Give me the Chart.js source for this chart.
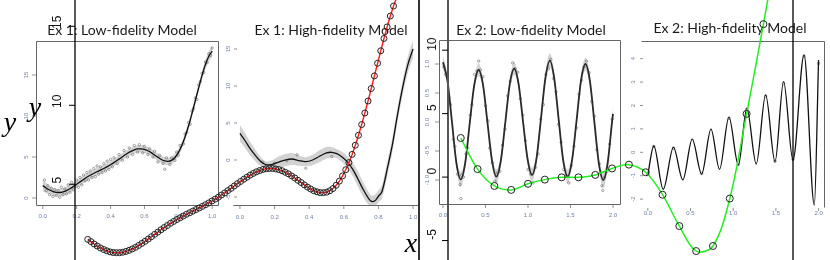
<!DOCTYPE html>
<html><head><meta charset="utf-8">
<script src="https://cdn.jsdelivr.net/npm/chart.js@4.4.1/dist/chart.umd.min.js"></script>
<style>
html,body{margin:0;padding:0;background:#fff;}
#wrap{position:relative;width:830px;height:260px;overflow:hidden;background:#fff;}
#wrap canvas{position:absolute;left:0;top:0;}
</style></head><body>
<div id="wrap">
<canvas id="p1" width="830" height="260"></canvas>
<canvas id="p2" width="830" height="260"></canvas>
<canvas id="p3" width="830" height="260"></canvas>
<canvas id="p4" width="830" height="260"></canvas>
<canvas id="o1" width="830" height="260"></canvas>
<canvas id="o2" width="830" height="260"></canvas>
</div>
<script>
// ---------- DATA ----------
const titles = ["Ex 1: Low-fidelity Model","Ex 1: High-fidelity Model","Ex 2: Low-fidelity Model","Ex 2: High-fidelity Model"];

// Ex 1 low-fidelity fit (x step 0.02)
const ex1LowStep = 0.02;
const ex1LowFit = [1.51,1.22,0.97,0.79,0.68,0.67,0.75,0.91,1.13,1.39,1.68,1.97,2.26,2.53,2.77,2.99,3.20,3.40,3.60,3.82,
  4.06,4.32,4.60,4.89,5.18,5.45,5.69,5.87,5.98,6.00,5.93,5.76,5.53,5.25,4.96,4.70,4.52,4.47,4.59,4.94,
  5.53,6.37,7.47,8.78,10.27,11.86,13.45,14.96,16.28,17.29,17.91];
const ex1LowSd = [0.7,0.6,0.5,0.45,0.45,0.45,0.45,0.45,0.45,0.45,0.45,0.45,0.45,0.45,0.45,0.45,0.45,0.45,0.45,0.45,
  0.45,0.45,0.45,0.45,0.45,0.45,0.45,0.45,0.45,0.45,0.45,0.45,0.45,0.45,0.45,0.45,0.45,0.45,0.45,0.45,
  0.45,0.45,0.45,0.45,0.45,0.45,0.45,0.5,0.55,0.6,0.7];
const ex1LowPts = [[0.01,2.2],[0.02,0.9],[0.03,1.5],[0.04,0.4],[0.05,1.2],[0.06,0.2],[0.07,1.0],[0.08,0.3],[0.09,0.9],[0.1,0.1],
  [0.11,1.3],[0.12,0.4],[0.13,1.1],[0.14,0.5],[0.15,1.6],[0.16,0.7],[0.17,1.9],[0.18,1.0],[0.19,1.5],[0.2,2.2],
  [0.21,1.3],[0.22,2.5],[0.23,1.6],[0.24,2.8],[0.25,2.1],[0.26,3.1],[0.27,2.2],[0.28,3.3],[0.29,2.5],[0.3,3.6],
  [0.31,2.6],[0.32,3.9],[0.33,2.9],[0.34,3.8],[0.35,3.1],[0.36,4.2],[0.37,3.3],[0.38,4.5],[0.39,3.5],[0.4,4.7],
  [0.41,3.8],[0.42,4.9],[0.44,4.2],[0.45,5.3],[0.47,4.6],[0.48,5.8],[0.5,5.0],[0.51,6.1],[0.53,5.3],[0.54,6.4],
  [0.56,5.6],[0.57,6.5],[0.59,5.5],[0.6,6.3],[0.62,5.3],[0.63,6.0],[0.65,5.0],[0.66,5.7],[0.68,4.4],[0.69,5.2],
  [0.71,4.2],[0.72,3.5],[0.73,4.9],[0.75,4.1],[0.76,4.9],[0.78,4.6],[0.79,5.6],[0.8,5.2],[0.81,6.4],[0.83,6.6],
  [0.84,7.8],[0.85,8.0],[0.86,9.2],[0.87,9.0],[0.88,10.6],[0.89,10.9],[0.9,12.2],[0.91,12.0],[0.92,13.8],[0.93,14.2],
  [0.94,15.2],[0.95,15.3],[0.96,16.6],[0.97,16.5],[0.98,17.6],[0.99,17.4],[1.0,18.3]];

// Ex 1 high-fidelity fit
const ex1HighX = [0.00,0.03,0.06,0.09,0.12,0.15,0.18,0.21,0.25,0.30,0.34,0.38,0.42,0.46,0.50,0.53,0.56,0.59,0.62,0.65,0.68,0.71,0.74,0.76,0.78,0.80,0.82,0.85,0.88,0.91,0.94,0.97,1.00];
const ex1HighFit = [3.6,2.6,1.5,0.6,-0.2,-0.62,-0.62,-0.4,-0.1,0.13,-0.08,-0.22,0.0,0.5,0.95,1.04,0.85,0.4,-0.25,-1.2,-2.5,-3.9,-5.1,-5.6,-5.5,-4.9,-4.3,-1.3,2.0,6.1,9.8,12.9,15.0];
const ex1HighSd = [1.1,1.0,0.9,0.8,0.6,0.45,0.5,0.7,0.8,0.8,0.7,0.6,0.7,0.8,0.8,0.7,0.6,0.7,0.8,0.9,1.0,1.0,0.9,0.8,0.8,0.8,0.9,1.0,1.0,1.0,1.0,1.1,1.2];
const ex1HighPts = [[0.13,-0.3],[0.2,-0.45],[0.27,-0.1],[0.33,0.7],[0.38,-1.1],[0.53,0.45]];

// Ex 2 low-fidelity fit
const ex2LowX = [0.000,0.052,0.105,0.157,0.209,0.262,0.314,0.367,0.419,0.471,0.524,0.576,0.628,0.681,0.733,0.785,0.838,0.890,0.942,0.995,
  1.047,1.100,1.152,1.204,1.257,1.309,1.361,1.414,1.466,1.518,1.571,1.623,1.676,1.728,1.780,1.833,1.885,1.937,1.990,2.000];
const ex2LowFit = [1.03,0.72,0.01,-0.70,-0.99,-0.70,-0.03,0.63,0.90,0.64,-0.02,-0.66,-0.94,-0.66,-0.01,0.65,0.92,0.65,0.00,-0.64,
  -0.91,-0.63,0.05,0.75,1.06,0.75,0.04,-0.66,-0.94,-0.66,0.02,0.71,1.00,0.71,0.01,-0.71,-1.00,-0.71,0.02,0.14];
const ex2LowSd = [0.12,0.08,0.05,0.08,0.13,0.08,0.05,0.08,0.11,0.08,0.05,0.08,0.12,0.08,0.05,0.08,0.11,0.08,0.05,0.08,
  0.12,0.08,0.05,0.08,0.12,0.08,0.05,0.08,0.12,0.08,0.05,0.08,0.11,0.08,0.05,0.08,0.14,0.1,0.08,0.12];
const ex2LowPts = [[0.01,0.95],[0.03,0.82],[0.05,0.78],[0.07,0.42],[0.09,0.30],[0.12,-0.30],[0.14,-0.42],[0.17,-0.90],[0.2,-1.08],[0.21,-1.32],
  [0.22,-0.92],[0.24,-0.95],[0.27,-0.55],[0.29,-0.45],[0.32,0.12],[0.34,0.30],[0.37,0.82],[0.4,0.88],[0.42,1.05],[0.44,0.90],
  [0.47,0.78],[0.5,0.28],[0.53,0.02],[0.55,-0.45],[0.58,-0.70],[0.61,-1.02],[0.64,-0.88],[0.67,-0.85],[0.7,-0.40],[0.73,-0.12],
  [0.76,0.45],[0.79,0.70],[0.82,1.02],[0.85,0.92],[0.88,0.86],[0.91,0.40],[0.94,0.12],[0.97,-0.32],[1.0,-0.82],[1.03,-0.90],
  [1.06,-1.05],[1.09,-0.78],[1.12,-0.55],[1.15,0.05],[1.18,0.30],[1.21,0.82],[1.24,0.92],[1.27,1.08],[1.3,0.75],[1.33,0.52],
  [1.36,-0.04],[1.39,-0.35],[1.42,-0.82],[1.45,-0.92],[1.48,-1.05],[1.51,-0.75],[1.54,-0.42],[1.57,-0.10],[1.6,0.48],[1.63,0.72],
  [1.66,0.95],[1.69,1.05],[1.72,0.85],[1.75,0.35],[1.78,0.10],[1.81,-0.48],[1.84,-0.72],[1.87,-1.10],[1.88,-1.18],[1.9,-0.95],
  [1.93,-0.85],[1.96,-0.38],[1.99,0.05]];

// Ex 2 high-fidelity fit
const ex2HighX = [0.00,0.07,0.18,0.30,0.41,0.52,0.63,0.74,0.84,0.95,1.06,1.16,1.27,1.38,1.49,1.59,1.70,1.83,1.95,2.00];
const ex2HighFit = [-0.95,0.27,-1.58,0.21,-1.18,0.56,-0.93,0.99,-0.73,1.50,-0.54,1.88,-0.50,2.45,-0.40,3.02,-0.33,4.16,-2.25,3.94];
const ex2HighPts = [[0.0,-0.95],[0.07,0.25],[0.3,0.18],[0.63,-0.9],[0.95,1.45],[1.06,-0.52],[1.16,1.85],[1.38,2.4],[1.49,-0.38],[1.59,2.95],[1.7,-0.3],[1.83,4.1],[2.0,3.8]];

// Overlay Ex 1: low-fidelity function sampled every 0.01
const ex1OverlayStep = 0.01;
const ex1Overlay = [1.51,1.37,1.22,1.09,0.97,0.87,0.79,0.72,0.68,0.67,
  0.67,0.70,0.75,0.82,0.91,1.01,1.13,1.26,1.39,1.53,
  1.68,1.83,1.97,2.12,2.26,2.39,2.53,2.65,2.77,2.88,
  2.99,3.10,3.20,3.30,3.40,3.50,3.60,3.71,3.82,3.94,
  4.06,4.18,4.32,4.45,4.60,4.74,4.89,5.04,5.18,5.32,
  5.45,5.58,5.69,5.79,5.87,5.94,5.98,6.00,6.00,5.97,
  5.93,5.86,5.76,5.66,5.53,5.40,5.25,5.11,4.96,4.82,
  4.70,4.59,4.52,4.47,4.47,4.50,4.59,4.73,4.94,5.20,
  5.53,5.92,6.37,6.89,7.47,8.10,8.78,9.51,10.27,11.06,
  11.86,12.66,13.45,14.23,14.96,15.65,16.28,16.83];
const ex1OverlayTicks = [5,10,15];

// Overlay Ex 2: points every 0.1
const ex2OverlayStep = 0.1;
const ex2Overlay = [3.08,0.63,-0.70,-1.01,-0.53,-0.20,-0.02,-0.02,0.17,0.68,0.98,0.38,-1.39,-3.86,-5.83,-5.43,-1.69,4.98,12.05,19.5];
const ex2OverlayTicks = [-5,0,5,10];

// tick labels
const ex1XTicks = [0,0.2,0.4,0.6,0.8,1.0];
const ex1XLabels = ["0.0","0.2","0.4","0.6","0.8","1.0"];
const ex1LowYTicks = [0,5,10,15];
const ex1HighYTicks = [-5,0,5,10,15];
const ex2XTicks = [0,0.5,1,1.5,2];
const ex2XLabels = ["0.0","0.5","1.0","1.5","2.0"];
const ex2LowYTicks = [-1,-0.5,0,0.5,1];
const ex2LowYLabels = ["-1.0","-0.5","0.0","0.5","1.0"];
const ex2HighYTicks = [-2,-1,0,1,2,3,4];

// ---------- HELPERS ----------
const stepX = (arr, step) => arr.map((v,i)=>({x: +(i*step).toFixed(4), y: v}));
const zipXY = (xs, ys) => xs.map((x,i)=>({x, y: ys[i]}));
const offXY = (xs, ys, ws, s) => xs.map((x,i)=>({x, y: ys[i] + s*ws[i]}));
const pts = arr => arr.map(p=>({x:p[0], y:p[1]}));

const rAxes = {
  id: 'rAxes',
  afterDatasetsDraw(chart, args, o) {
    const ctx = chart.ctx, a = chart.chartArea, xs = chart.scales.x, ys = chart.scales.y;
    ctx.save();
    if (o.box && o.box.length) {
      ctx.strokeStyle = o.boxColor || '#555'; ctx.lineWidth = 1;
      ctx.beginPath();
      const L = Math.round(a.left)+0.5, R = Math.round(a.right)-0.5, T = Math.round(a.top)+0.5, B = Math.round(a.bottom)-0.5;
      if (o.box.includes('top')) { ctx.moveTo(L, T); ctx.lineTo(R, T); }
      if (o.box.includes('bottom')) { ctx.moveTo(L, B); ctx.lineTo(R, B); }
      if (o.box.includes('left')) { ctx.moveTo(L, T); ctx.lineTo(L, B); }
      if (o.box.includes('right')) { ctx.moveTo(R, T); ctx.lineTo(R, B); }
      ctx.stroke();
    }
    (o.fullLines || []).forEach(l => {
      const px = l.side === 'left' ? a.left : a.right;
      ctx.strokeStyle = l.color; ctx.lineWidth = l.width;
      ctx.beginPath(); ctx.moveTo(px, 0); ctx.lineTo(px, chart.height); ctx.stroke();
    });
    if (o.xTicks) {
      ctx.font = o.tickFont; ctx.fillStyle = o.tickColor; ctx.strokeStyle = o.tickMarkColor || '#777'; ctx.lineWidth = 0.8;
      ctx.textAlign = 'center'; ctx.textBaseline = 'middle';
      o.xTicks.forEach((v,i) => {
        const px = xs.getPixelForValue(v);
        ctx.beginPath(); ctx.moveTo(px, a.bottom); ctx.lineTo(px, a.bottom + 3); ctx.stroke();
        ctx.fillText(o.xLabels[i], px, a.bottom + o.xLabelOffset);
      });
    }
    if (o.yTicks) {
      ctx.strokeStyle = o.tickMarkColor || '#777'; ctx.lineWidth = o.yTickWidth || 0.8;
      o.yTicks.forEach((v,i) => {
        const py = ys.getPixelForValue(v);
        ctx.beginPath(); ctx.moveTo(a.left + o.yTickFrom, py); ctx.lineTo(a.left + o.yTickTo, py); ctx.stroke();
        ctx.save();
        ctx.translate(a.left - o.yLabelOffset, py + (o.yLabelShift || 0));
        ctx.rotate(-Math.PI/2);
        ctx.font = o.yTickFont || o.tickFont; ctx.fillStyle = o.yTickColor || o.tickColor;
        ctx.textAlign = 'center'; ctx.textBaseline = 'middle';
        ctx.fillText(o.yLabels ? o.yLabels[i] : String(v), 0, 0);
        ctx.restore();
      });
    }
    if (o.title) {
      ctx.font = '14px Lato'; ctx.fillStyle = '#1a1a1a';
      ctx.textAlign = 'center'; ctx.textBaseline = 'middle';
      ctx.fillText(o.title, o.titleX, o.titleY);
    }
    (o.texts || []).forEach(t => {
      ctx.font = t.font; ctx.fillStyle = '#000'; ctx.textAlign = 'center'; ctx.textBaseline = 'alphabetic';
      ctx.fillText(t.text, t.x, t.y);
    });
    ctx.restore();
  }
};

function baseOptions(area, xr, yr, axes) {
  return {
    responsive: false, animation: false, events: [],
    layout: { padding: { left: area[0], top: area[1], right: 830 - area[2], bottom: 260 - area[3] } },
    scales: {
      x: { type: 'linear', min: xr[0], max: xr[1], display: false },
      y: { type: 'linear', min: yr[0], max: yr[1], display: false }
    },
    plugins: { legend: { display: false }, tooltip: { enabled: false }, title: { display: false }, rAxes: axes }
  };
}

function panel(id, cfg) {
  const ds = [];
  if (cfg.sd) {
    ds.push({ data: offXY(cfg.x, cfg.fit, cfg.sd, 1), borderColor: 'rgba(0,0,0,0)', borderWidth: 0.01, pointRadius: 0, order: 5,
      fill: '+1', backgroundColor: 'rgba(205,205,205,0.9)', tension: cfg.tension, cubicInterpolationMode: cfg.mode });
    ds.push({ data: offXY(cfg.x, cfg.fit, cfg.sd, -1), borderColor: 'rgba(0,0,0,0)', borderWidth: 0.01, pointRadius: 0, order: 4,
      fill: false, tension: cfg.tension, cubicInterpolationMode: cfg.mode });
  }
  ds.push({ data: pts(cfg.pts), showLine: false, pointRadius: cfg.ptR || 1.2, pointBorderWidth: 0.6, order: 2,
    pointBorderColor: '#666', pointBackgroundColor: 'rgba(0,0,0,0)' });
  ds.push({ data: zipXY(cfg.x, cfg.fit), borderColor: cfg.lineColor || '#111', borderWidth: cfg.lw || 1.4, pointRadius: 0, order: 1,
    fill: false, tension: cfg.tension, cubicInterpolationMode: cfg.mode });
  return new Chart(document.getElementById(id), {
    type: 'line', data: { datasets: ds },
    options: baseOptions(cfg.area, cfg.xr, cfg.yr, cfg.axes), plugins: [rAxes]
  });
}

const tickFont = '6px "Liberation Sans"';
const tickColor = '#6f80a6';

const ex1LowX = ex1LowFit.map((v,i)=> +(i*ex1LowStep).toFixed(3));
panel('p1', {
  x: ex1LowX, fit: ex1LowFit, sd: ex1LowSd, pts: ex1LowPts, tension: 0.3, mode: 'default', lw: 1.3,
  area: [36, 41, 219, 206], xr: [-0.04, 1.04], yr: [-0.976, 19.15],
  axes: { box: ['top','right','bottom','left'], boxColor: '#666', xTicks: ex1XTicks, xLabels: ex1XLabels, xLabelOffset: 10,
    yTicks: ex1LowYTicks, yTickFrom: -4, yTickTo: 0, yLabelOffset: 10, tickFont, tickColor,
    title: titles[0], titleX: 122, titleY: 30 }
});

panel('p2', {
  x: ex1HighX, fit: ex1HighFit, sd: ex1HighSd, pts: ex1HighPts, tension: 0.35, mode: 'default', lw: 1.3,
  area: [233, 30, 420, 206], xr: [-0.04, 1.04], yr: [-6.22, 17.57],
  axes: { box: ['bottom'], boxColor: '#666', xTicks: ex1XTicks, xLabels: ex1XLabels, xLabelOffset: 11,
    yTicks: ex1HighYTicks, yTickFrom: 1, yTickTo: 4, yLabelOffset: 5, tickFont, tickColor,
    title: titles[1], titleX: 331, titleY: 30 }
});

panel('p3', {
  x: ex2LowX, fit: ex2LowFit, sd: ex2LowSd, pts: ex2LowPts, tension: 0, mode: 'monotone', lw: 1.8, lineColor: '#2a2a2a', ptR: 1.2,
  area: [439, 40, 621, 205], xr: [-0.047, 2.094], yr: [-1.431, 1.414],
  axes: { box: ['top','right','bottom','left'], boxColor: '#666', xTicks: ex2XTicks, xLabels: ex2XLabels, xLabelOffset: 10,
    yTicks: ex2LowYTicks, yLabels: ex2LowYLabels, yTickFrom: -4, yTickTo: 0, yLabelOffset: 12, tickFont, tickColor,
    title: titles[2], titleX: 531, titleY: 30 }
});

panel('p4', {
  x: ex2HighX, fit: ex2HighFit, sd: null, pts: ex2HighPts, tension: 0, mode: 'monotone', lw: 1.3, ptR: 1.3,
  area: [641, 41, 826, 208], xr: [-0.08, 2.08], yr: [-2.38, 4.756],
  axes: { box: ['top','right'], boxColor: '#666', xTicks: ex2XTicks, xLabels: ex2XLabels, xLabelOffset: 5,
    yTicks: ex2HighYTicks, yTickFrom: -1, yTickTo: 2, yLabelOffset: 8, tickFont, tickColor,
    title: titles[3], titleX: 730, titleY: 28 }
});

new Chart(document.getElementById('o1'), {
  type: 'line',
  data: { datasets: [{ data: stepX(ex1Overlay, ex1OverlayStep), borderColor: '#ff1a1a', borderWidth: 1.4, tension: 0,
    pointRadius: 3, pointBorderWidth: 1, pointBorderColor: '#222', pointBackgroundColor: 'rgba(0,0,0,0)', fill: false, clip: false }] },
  options: baseOptions([75, 0, 419, 260], [-0.04, 1.04], [0.523, 16.348], {
    fullLines: [{ side: 'left', color: '#000', width: 1.3 }, { side: 'right', color: '#333', width: 2 }],
    yTicks: ex1OverlayTicks, yTickFrom: -6, yTickTo: 0, yTickWidth: 1, tickMarkColor: '#000', yLabelOffset: 17, yLabelShift: -4,
    yTickFont: '12px "Liberation Sans"', yTickColor: '#111', tickFont,
    texts: [{ text: 'y', x: 10, y: 131, font: 'italic 28px "Liberation Serif"' },
            { text: 'y', x: 35, y: 116, font: 'italic 28px "Liberation Serif"' },
            { text: 'x', x: 411, y: 252, font: 'italic 28px "Liberation Serif"' }]
  }),
  plugins: [rAxes]
});

new Chart(document.getElementById('o2'), {
  type: 'line',
  data: { datasets: [{ data: stepX(ex2Overlay, ex2OverlayStep), borderColor: '#22ee22', borderWidth: 1.5, tension: 0.35,
    pointRadius: 3.5, pointBorderWidth: 1, pointBorderColor: '#222', pointBackgroundColor: 'rgba(0,0,0,0)', fill: false, clip: false }] },
  options: baseOptions([448, 0, 793, 260], [-0.076, 1.976], [-6.14, 13.56], {
    fullLines: [{ side: 'left', color: '#555', width: 2 }, { side: 'right', color: '#000', width: 1.3 }],
    yTicks: ex2OverlayTicks, yTickFrom: -6, yTickTo: 0, yTickWidth: 1, tickMarkColor: '#000', yLabelOffset: 15, yLabelShift: -6,
    yTickFont: '12px "Liberation Sans"', yTickColor: '#111', tickFont
  }),
  plugins: [rAxes]
});
</script>
</body></html>
